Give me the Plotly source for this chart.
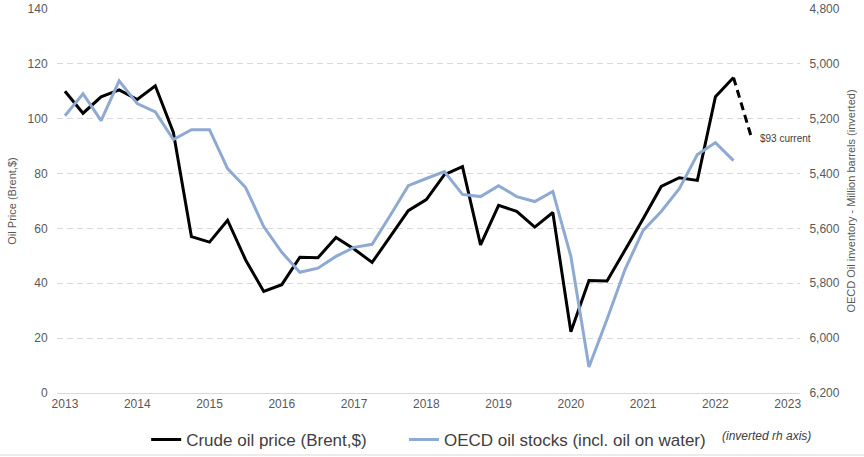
import plotly.graph_objects as go

# ---- data ----
quarters = [2013 + i * 0.25 for i in range(38)]
brent = [110, 102, 108, 110.5, 107, 112, 95, 57, 55, 63, 48.5, 37, 39.5, 49.5, 49.3, 56.7,
         52.5, 47.6, 57, 66.5, 70.5, 79.6, 82.5, 54, 68.4, 66.2, 60.5, 65.8, 22.3, 41, 40.8,
         52, 63.5, 75.3, 78.5, 77.5, 108, 115]
stocks = [5189, 5109, 5207, 5062, 5145, 5175, 5276, 5240, 5240, 5382, 5451, 5593, 5687, 5760,
          5745, 5702, 5669, 5658, 5553, 5444, 5418, 5393, 5476, 5484, 5444, 5484, 5502, 5465,
          5702, 6105, 5931, 5749, 5607, 5538, 5455, 5331, 5287, 5353]
current_x = [2022.25, 2022.5]
current_y = [115, 93]
year_ticks = list(range(2013, 2024))
year_labels = [str(y) for y in year_ticks]
left_ticks = [0, 20, 40, 60, 80, 100, 120, 140]
right_ticks = [4800, 5000, 5200, 5400, 5600, 5800, 6000, 6200]
right_labels = ["4,800", "5,000", "5,200", "5,400", "5,600", "5,800", "6,000", "6,200"]

FONT = "Liberation Sans, Arial, sans-serif"
GREY = "#595959"

fig = go.Figure()
fig.add_trace(go.Scatter(x=quarters, y=brent, mode="lines", name="Crude oil price (Brent,$)",
                         line=dict(color="black", width=3), legend="legend"))
fig.add_trace(go.Scatter(x=quarters, y=stocks, mode="lines", name="OECD oil stocks (incl. oil on water)",
                         line=dict(color="#8FAAD2", width=3), yaxis="y2", legend="legend2"))
fig.add_trace(go.Scatter(x=current_x, y=current_y, mode="lines", showlegend=False,
                         line=dict(color="black", width=3, dash="8px,5px")))

fig.add_annotation(x=current_x[-1], y=current_y[-1], text="$93 current", showarrow=False,
                   xanchor="left", yanchor="middle", xshift=6, yshift=-1,
                   font=dict(family=FONT, size=10, color="#404040"))
fig.add_annotation(xref="paper", yref="paper", x=0.892, y=-0.112, text="<i>(inverted rh axis)</i>",
                   showarrow=False, xanchor="left", yanchor="middle",
                   font=dict(family=FONT, size=12, color="#404040"))

fig.add_shape(type="line", xref="paper", yref="paper", x0=-57/743, x1=807/743,
              y0=-62/384, y1=-62/384, line=dict(color="#d9d9d9", width=1))

legend_common = dict(orientation="h", xanchor="left", y=-0.122, yanchor="middle",
                     font=dict(family=FONT, size=17, color="#404040"),
                     bgcolor="rgba(0,0,0,0)", itemwidth=30, tracegroupgap=0)

fig.update_layout(
    width=864, height=457,
    margin=dict(l=57, r=64, t=9, b=64, autoexpand=False),
    paper_bgcolor="white", plot_bgcolor="white",
    font=dict(family=FONT, size=12, color=GREY),
    showlegend=True,
    legend=dict(x=0.12, **legend_common),
    legend2=dict(x=0.467, **legend_common),
    xaxis=dict(range=[2012.89, 2023.17], tickmode="array", tickvals=year_ticks, ticktext=year_labels,
               showgrid=False, zeroline=False, showline=True, linecolor="#d9d9d9", linewidth=1,
               ticks="", tickfont=dict(family=FONT, size=12, color=GREY)),
    yaxis=dict(range=[0, 140], tickmode="array", tickvals=left_ticks,
               showgrid=True, gridcolor="#d9d9d9", griddash="6px,4px", gridwidth=1,
               zeroline=False, showline=False, ticks="outside", ticklen=6, tickcolor="rgba(0,0,0,0)",
               tickfont=dict(family=FONT, size=12, color=GREY),
               title=dict(text="Oil Price (Brent,$)", font=dict(family=FONT, size=11, color=GREY), standoff=8)),
    yaxis2=dict(range=[6200, 4800], overlaying="y", side="right", tickmode="array",
                tickvals=right_ticks, ticktext=right_labels, showgrid=False, zeroline=False,
                ticks="outside", ticklen=6, tickcolor="rgba(0,0,0,0)",
                tickfont=dict(family=FONT, size=12, color=GREY),
                title=dict(text="OECD Oil inventory - Million barrels (inverted)",
                           font=dict(family=FONT, size=11, color=GREY), standoff=8)),
)

fig.write_html("out.html")
